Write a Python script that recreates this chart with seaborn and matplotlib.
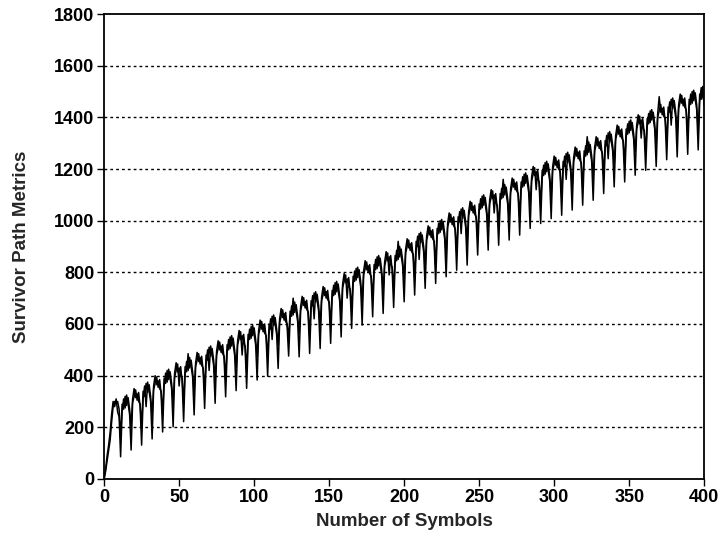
import numpy as np
import pandas as pd
import matplotlib
matplotlib.use("Agg")
import matplotlib.pyplot as plt
import seaborn as sns

# Survivor path metrics of two decoder states, one value per received symbol (0..400).
# Rows after the start-up segment hold one 7-symbol cycle each (dip first).
path_a = [
    0, 40, 90, 130, 180, 250, 300, 280, 310, 260, 240,
    86, 260, 310, 275, 325, 290, 250,
    112, 295, 320, 345, 305, 335, 280,
    131, 310, 360, 280, 375, 340, 300,
    155, 345, 370, 395, 355, 385, 330,
    182, 360, 410, 375, 425, 390, 350,
    202, 395, 420, 445, 360, 435, 380,
    222, 405, 455, 420, 470, 435, 395,
    248, 435, 460, 485, 445, 475, 420,
    273, 450, 500, 420, 515, 480, 440,
    293, 480, 505, 530, 490, 520, 465,
    318, 490, 540, 505, 555, 520, 480,
    342, 520, 545, 570, 480, 560, 505,
    351, 530, 580, 545, 595, 560, 520,
    383, 560, 585, 610, 570, 600, 545,
    398, 570, 620, 540, 635, 600, 560,
    428, 605, 630, 655, 615, 645, 590,
    476, 620, 670, 635, 685, 650, 610,
    473, 652, 677, 702, 662, 692, 637,
    486, 660, 710, 620, 725, 690, 650,
    505, 690, 715, 740, 700, 730, 675,
    525, 700, 750, 715, 765, 730, 690,
    550, 740, 765, 790, 700, 780, 725,
    583, 755, 805, 770, 820, 785, 745,
    596, 790, 815, 840, 800, 830, 775,
    628, 800, 850, 815, 865, 830, 790,
    641, 825, 850, 875, 790, 865, 810,
    664, 835, 885, 850, 900, 865, 825,
    686, 875, 900, 925, 885, 915, 860,
    712, 890, 940, 850, 955, 920, 880,
    738, 925, 950, 975, 935, 965, 910,
    757, 940, 990, 955, 1005, 970, 930,
    783, 975, 1000, 1025, 985, 1015, 960,
    808, 985, 1035, 950, 1050, 1015, 975,
    828, 1020, 1045, 1070, 1030, 1060, 1005,
    867, 1035, 1085, 1050, 1100, 1065, 1025,
    886, 1065, 1090, 1115, 1030, 1105, 1050,
    905, 1075, 1125, 1090, 1140, 1105, 1065,
    925, 1110, 1135, 1160, 1120, 1150, 1095,
    944, 1120, 1170, 1135, 1185, 1150, 1110,
    970, 1155, 1180, 1205, 1120, 1195, 1140,
    989, 1165, 1215, 1180, 1230, 1195, 1155,
    1008, 1195, 1220, 1245, 1205, 1235, 1180,
    1021, 1200, 1250, 1160, 1265, 1230, 1190,
    1041, 1230, 1255, 1280, 1240, 1270, 1215,
    1060, 1240, 1290, 1255, 1305, 1270, 1230,
    1079, 1270, 1295, 1320, 1280, 1310, 1255,
    1105, 1280, 1330, 1240, 1345, 1310, 1270,
    1131, 1315, 1340, 1365, 1325, 1355, 1300,
    1150, 1325, 1375, 1340, 1390, 1355, 1315,
    1176, 1355, 1380, 1405, 1320, 1395, 1340,
    1195, 1365, 1415, 1380, 1430, 1395, 1355,
    1210, 1400, 1425, 1450, 1410, 1440, 1385,
    1236, 1410, 1460, 1370, 1475, 1440, 1400,
    1247, 1435, 1460, 1485, 1445, 1475, 1420,
    1257, 1440, 1490, 1455, 1505, 1470, 1430,
    1274, 1460, 1515, 1480, 1460,
]

path_b = [
    0, 30, 70, 110, 150, 220, 280, 300, 290, 300, 270,
    156, 290, 270, 320, 285, 315, 270,
    202, 310, 350, 315, 330, 300, 290,
    201, 340, 320, 370, 335, 365, 320,
    245, 360, 400, 365, 380, 350, 340,
    252, 390, 370, 420, 385, 415, 370,
    292, 410, 450, 415, 430, 400, 390,
    292, 435, 415, 485, 430, 460, 415,
    338, 450, 490, 455, 470, 440, 430,
    343, 480, 460, 510, 475, 505, 460,
    383, 495, 535, 500, 515, 485, 475,
    388, 520, 500, 550, 515, 545, 500,
    432, 535, 575, 540, 555, 525, 515,
    421, 560, 540, 590, 555, 585, 540,
    473, 575, 615, 580, 595, 565, 555,
    468, 600, 580, 630, 595, 625, 580,
    518, 620, 660, 625, 640, 610, 600,
    546, 650, 630, 700, 645, 675, 630,
    563, 667, 707, 672, 687, 657, 647,
    556, 690, 670, 720, 685, 715, 670,
    595, 705, 745, 710, 725, 695, 685,
    595, 730, 710, 760, 725, 755, 710,
    640, 755, 795, 760, 775, 745, 735,
    653, 785, 765, 815, 780, 810, 765,
    686, 805, 845, 810, 825, 795, 785,
    698, 830, 810, 860, 825, 855, 810,
    731, 840, 880, 845, 860, 830, 820,
    734, 865, 845, 920, 860, 890, 845,
    776, 890, 930, 895, 910, 880, 870,
    782, 920, 900, 950, 915, 945, 900,
    828, 940, 980, 945, 960, 930, 920,
    827, 970, 950, 1000, 965, 995, 950,
    873, 990, 1030, 995, 1010, 980, 970,
    878, 1015, 995, 1045, 1010, 1040, 995,
    918, 1035, 1075, 1040, 1055, 1025, 1015,
    937, 1065, 1045, 1095, 1060, 1090, 1045,
    976, 1080, 1120, 1085, 1100, 1070, 1060,
    975, 1105, 1085, 1160, 1100, 1130, 1085,
    1015, 1125, 1165, 1130, 1145, 1115, 1105,
    1014, 1150, 1130, 1180, 1145, 1175, 1130,
    1060, 1170, 1210, 1175, 1190, 1160, 1150,
    1059, 1195, 1175, 1225, 1190, 1220, 1175,
    1098, 1210, 1250, 1215, 1230, 1200, 1190,
    1091, 1230, 1210, 1260, 1225, 1255, 1210,
    1131, 1245, 1285, 1250, 1265, 1235, 1225,
    1130, 1270, 1250, 1325, 1265, 1295, 1250,
    1169, 1285, 1325, 1290, 1305, 1275, 1265,
    1175, 1310, 1290, 1340, 1305, 1335, 1290,
    1221, 1330, 1370, 1335, 1350, 1320, 1310,
    1220, 1355, 1335, 1385, 1350, 1380, 1335,
    1266, 1370, 1410, 1375, 1390, 1360, 1350,
    1265, 1395, 1375, 1425, 1390, 1420, 1375,
    1300, 1415, 1480, 1420, 1435, 1405, 1395,
    1306, 1440, 1420, 1470, 1435, 1465, 1420,
    1337, 1450, 1490, 1455, 1470, 1440, 1430,
    1327, 1470, 1450, 1500, 1465, 1495, 1450,
    1344, 1490, 1470, 1520, 1445,
]

symbols = np.arange(len(path_a))
y_ticks = [0, 200, 400, 600, 800, 1000, 1200, 1400, 1600, 1800]
x_ticks = [0, 50, 100, 150, 200, 250, 300, 350, 400]

df = pd.DataFrame({
    "symbol": np.concatenate([symbols, symbols]),
    "metric": np.concatenate([path_a, path_b]),
    "path": ["a"] * len(path_a) + ["b"] * len(path_b),
})

sns.set_style("ticks")
plt.rcParams["font.family"] = ["Liberation Sans", "DejaVu Sans"]

fig = plt.figure(figsize=(7.23, 5.40), dpi=100)
ax = fig.add_axes([0.144, 0.113, 0.830, 0.861])

sns.lineplot(data=df, x="symbol", y="metric", hue="path",
             palette=["black", "black"], estimator=None, errorbar=None,
             linewidth=1.1, legend=False, ax=ax, zorder=3)

for v in y_ticks[1:-1]:
    ax.axhline(v, color="black", linewidth=1.0, linestyle=(0, (2.0, 2.2)), zorder=1)

ax.set_xlim(0, 400)
ax.set_ylim(0, 1800)
ax.set_xticks(x_ticks)
ax.set_yticks(y_ticks)
ax.tick_params(axis="both", direction="out", length=5, width=1.0,
               labelsize=13, colors="black", pad=2)
for lab in ax.get_xticklabels() + ax.get_yticklabels():
    lab.set_fontweight("bold")
for s in ax.spines.values():
    s.set_color("black")
    s.set_linewidth(1.3)

ax.set_xlabel("Number of Symbols", fontsize=13.5, fontweight="bold", labelpad=5)
ax.set_ylabel("Survivor Path Metrics", fontsize=13.5, fontweight="bold", labelpad=17)

fig.savefig("out.png", dpi=100, facecolor="white")
